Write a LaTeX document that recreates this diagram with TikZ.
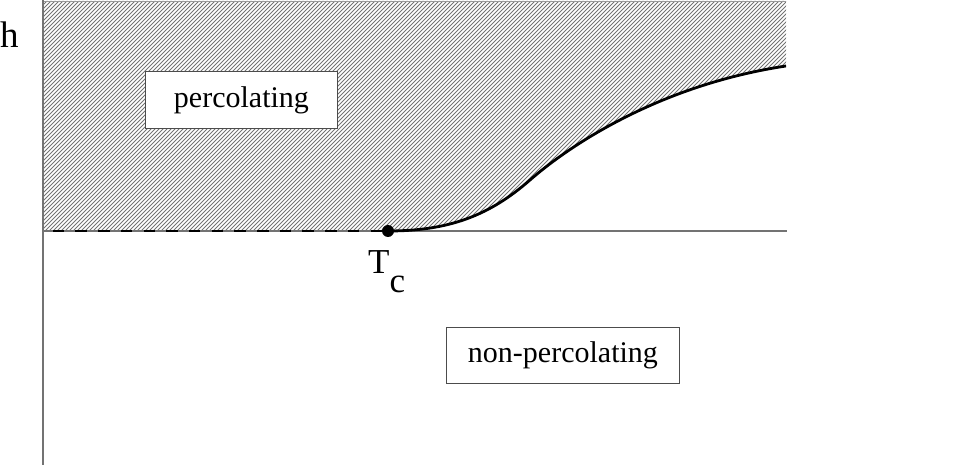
\documentclass[tikz,border=0pt]{standalone}
\usepackage{fontspec}
\setmainfont{Liberation Serif}
\begin{document}
\begin{tikzpicture}[x=1pt,y=-1pt,
  axis/.style={draw=black!55,line width=1.2pt},
  hatch/.style={draw=black!55,line width=0.9pt},
  curve/.style={draw=black,line width=2.8pt},
  labelbox/.style={draw=black!70,line width=0.9pt,fill=white,inner sep=0pt,anchor=north west},
  boxtext/.style={font=\fontsize{30}{30}\selectfont},
  lbl/.style={font=\fontsize{34}{34}\selectfont,inner sep=0pt,anchor=base west}]
\useasboundingbox (0,0) rectangle (977,470);
\coordinate (O) at (43,231);
\coordinate (Tc) at (388,231);
\coordinate (E) at (786,66);
\coordinate (TR) at (786,1);
\coordinate (TL) at (43,1);
% hatched region
\begin{scope}
\clip (TL) -- (TR) -- (E) .. controls (660,85) and (570,145) .. (530,180) .. controls (490,215) and (450,231) .. (Tc) -- (O) -- cycle;
\foreach \i in {-240,-236,...,800} {
  \draw[hatch] (\i,240) -- (\i+240,0);
}
\end{scope}
\draw[draw=black!40,line width=0.6pt] (TL) -- (TR);
% axes
\coordinate (Ytop) at (43,0);
\coordinate (Ybot) at (43,465);
\coordinate (Xend) at (787,231);
\draw[axis] (Ytop) -- (Ybot);
\draw[axis] (O) -- (Xend);
% dashed part
\draw[line width=2.6pt,dash pattern=on 11.5pt off 11.2pt,dash phase=13pt] (O) -- (Tc);
% curve
\draw[curve] (Tc) .. controls (450,231) and (490,215) .. (530,180) .. controls (570,145) and (660,85) .. (E);
\fill (Tc) circle (6);
% labels
\node[lbl,font=\fontsize{37}{37}\selectfont] (h) at (0,48) {h};
\node[lbl,font=\fontsize{35}{35}\selectfont] (tc) at (368,274) {T\raisebox{-19pt}{c}};
\node[labelbox,minimum width=192pt,minimum height=57pt] (perc) at (145,71) {};
\node[boxtext] (perctext) at (perc.center) {percolating};
\node[labelbox,minimum width=233pt,minimum height=56pt] (nonperc) at (446,327) {};
\node[boxtext] (nonperctext) at (nonperc.center) {non-percolating};
\end{tikzpicture}
\end{document}
